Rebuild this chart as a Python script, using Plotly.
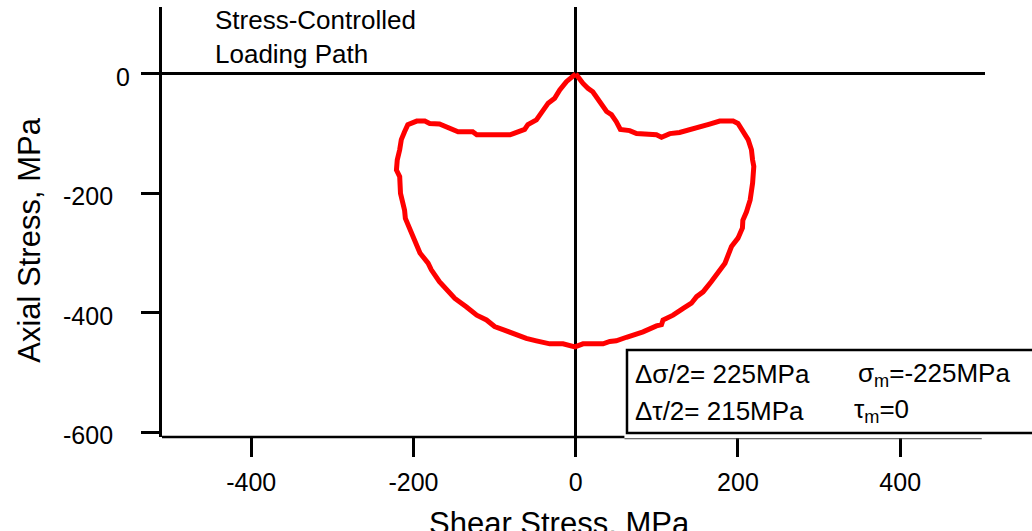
import plotly.graph_objects as go

# Loading path (shear stress, axial stress) in MPa
shear = [0, -11.5, -19.7, -26, -34, -40, -48.5, -59, -63, -77, -81, -122, -127, -145, -168, -180,
         -186, -196, -207, -211, -215, -217, -220, -221, -217, -216, -214, -211, -210, -203, -196,
         -192, -182, -178, -168, -155, -149, -135, -122, -110, -100, -88, -73, -61, -48.5, -32,
         -15.7, -1, 9, 33.7, 42, 50, 62.5, 83, 99.5, 105.7, 107.6, 120, 132, 142.6, 149, 157,
         167, 177.5, 184, 192, 200, 205.5, 206, 210.5, 215, 218, 219.5, 218, 216.6, 212.5, 206,
         200, 194, 177.5, 165, 155, 140.6, 128, 116, 105.7, 99.5, 75, 66.5, 55, 50, 44, 38, 29.6,
         21, 15, 9, 0]
axial = [0, -13, -27, -41, -49, -60, -77, -85, -93, -100, -102, -102, -97, -97, -84, -83,
         -79, -79, -85, -97, -110, -127, -144, -161, -172, -200, -211, -228, -242, -264, -284,
         -300, -317, -328, -348, -367, -376, -390, -404, -412, -423, -429, -437, -443, -447, -452,
         -452, -457, -452, -452, -448, -447, -441, -432, -422, -420, -412, -404, -393, -384, -373, -365,
         -348, -328, -317, -289, -275, -258, -245, -231, -211, -183, -155, -144, -127, -110, -94,
         -83, -79, -79, -84, -88, -95, -98, -100, -106, -102, -100, -95, -93, -80, -68, -63, -46,
         -30, -24, -16, 0]

x_ticks = [-400, -200, 0, 200, 400]
x_tick_labels = ["-400", "-200", "0", "200", "400"]
y_ticks = [0, -200, -400, -600]
y_tick_labels = ["0", "-200", "-400", "-600"]

FONT = "Liberation Sans, Arial, sans-serif"

fig = go.Figure()
fig.add_trace(go.Scatter(x=shear, y=axial, mode="lines",
                         line=dict(color="#ff0000", width=5), hoverinfo="skip",
                         showlegend=False))

fig.update_layout(
    width=1032, height=531,
    margin=dict(l=162, r=47, t=7, b=94),
    paper_bgcolor="white", plot_bgcolor="white",
    font=dict(family=FONT, color="black", size=25),
    showlegend=False,
    xaxis=dict(range=[-510, 504.5], tickvals=x_ticks, ticktext=x_tick_labels,
               ticks="outside", ticklen=19,
               tickwidth=2.5, tickcolor="black", showgrid=False, showline=False,
               zeroline=True, zerolinecolor="black", zerolinewidth=2.5,
               tickfont=dict(size=25), ticklabelstandoff=4),
    yaxis=dict(range=[-608, 112], tickvals=y_ticks, ticks="outside", ticklen=18,
               tickwidth=2.5, tickcolor="black", showgrid=False, showline=True,
               linecolor="black", linewidth=2.5, showticklabels=False,
               zeroline=True, zerolinecolor="black", zerolinewidth=2.5),
)

# bottom axis line: thick part, thin continuation under the parameter box
fig.add_shape(type="line", xref="x", yref="paper", x0=-510, x1=60, y0=0, y1=0,
              line=dict(color="black", width=2.5), layer="above")
fig.add_shape(type="line", xref="x", yref="paper", x0=60, x1=500.5, y0=-0.004, y1=-0.004,
              line=dict(color="#444444", width=1), layer="above")

# parameter box
fig.add_shape(type="rect", xref="paper", yref="paper", x0=0.565, x1=1.1, y0=0.0093, y1=0.2023,
              line=dict(color="black", width=2.5), fillcolor="white", layer="above")

# y tick labels
for v, t in zip(y_ticks, y_tick_labels):
    xr = -0.0365 if v == 0 else -0.0571
    fig.add_annotation(text=t, xref="paper", yref="y", x=xr, y=v - 5, xanchor="right",
                       yanchor="middle", showarrow=False, font=dict(size=25))

# axis titles
fig.add_annotation(text="Shear Stress, MPa", xref="x", yref="paper", x=-20, y=-0.155,
                   xanchor="center", yanchor="top", showarrow=False, font=dict(size=31))
fig.add_annotation(text="Axial Stress, MPa", xref="paper", yref="paper", x=-0.162, y=0.458,
                   xanchor="center", yanchor="middle", textangle=-90, showarrow=False,
                   font=dict(size=31))

# path label
fig.add_annotation(text="Stress-Controlled<br>Loading Path", xref="x", yref="paper",
                   x=-447, y=1.0093, xanchor="left", yanchor="top", align="left",
                   showarrow=False, font=dict(size=26))

# parameter text
fig.add_annotation(text="\u0394\u03c3/2= 225MPa", xref="x", yref="y", x=71, y=-503,
                   xanchor="left", yanchor="middle", showarrow=False, font=dict(size=26))
fig.add_annotation(text="\u03c3<sub>m</sub>=-225MPa", xref="x", yref="y", x=345, y=-503,
                   xanchor="left", yanchor="middle", showarrow=False, font=dict(size=26))
fig.add_annotation(text="\u0394\u03c4/2= 215MPa", xref="x", yref="y", x=71, y=-564,
                   xanchor="left", yanchor="middle", showarrow=False, font=dict(size=26))
fig.add_annotation(text="\u03c4<sub>m</sub>=0", xref="x", yref="y", x=340, y=-564,
                   xanchor="left", yanchor="middle", showarrow=False, font=dict(size=26))

fig.write_html("out.html")
